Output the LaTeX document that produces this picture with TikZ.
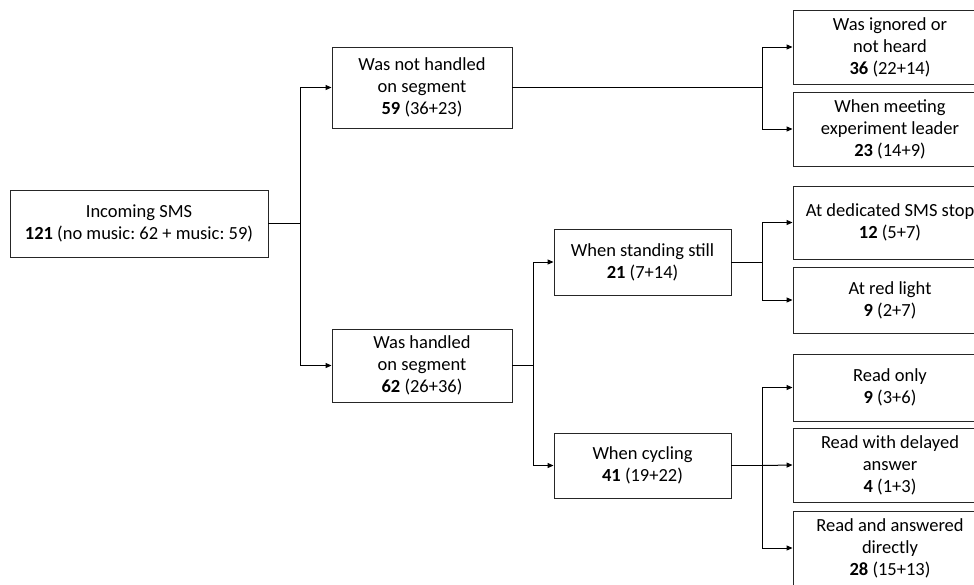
\documentclass[tikz,border=0pt]{standalone}
\usepackage{fontspec}
\setmainfont{Carlito}
\usetikzlibrary{arrows.meta}
\frenchspacing
\begin{document}
\begin{tikzpicture}[x=1pt,y=-1pt,
  box/.style={draw=black!85,line width=0.9pt,rectangle,align=center,inner sep=0pt,
    font=\fontsize{18.5}{22}\selectfont},
  link/.style={draw=black,line width=1pt},
  arr/.style={link,-{Triangle[length=6pt,width=5pt]}}]
\useasboundingbox (0,0) rectangle (974,584);
\clip (0,0) rectangle (974,584);
% nodes
\node[box,minimum width=258pt,minimum height=67pt] (in) at (139,223.5) {Incoming SMS\\\textbf{121} (no music: 62 + music: 59)};
\node[box,minimum width=180pt,minimum height=81pt] (nh) at (422,87.5) {Was not handled\\on segment\\\textbf{59} (36+23)};
\node[box,minimum width=180pt,minimum height=73pt] (h) at (422,365.5) {Was handled\\on segment\\\textbf{62} (26+36)};
\node[box,minimum width=177pt,minimum height=66pt] (ss) at (642.5,262) {When standing still\\\textbf{21} (7+14)};
\node[box,minimum width=177pt,minimum height=65pt] (cy) at (642.5,465.5) {When cycling\\\textbf{41} (19+22)};
\node[box,minimum width=194pt,minimum height=74pt] (ig) at (890,47) {Was ignored or\\not heard\\\textbf{36} (22+14)};
\node[box,minimum width=194pt,minimum height=74pt] (me) at (890,129) {When meeting\\experiment leader\\\textbf{23} (14+9)};
\node[box,minimum width=194pt,minimum height=73pt] (ds) at (890,222.5) {At dedicated SMS stop\\\textbf{12} (5+7)};
\node[box,minimum width=194pt,minimum height=66pt] (rl) at (890,300) {At red light\\\textbf{9} (2+7)};
\node[box,minimum width=194pt,minimum height=67pt] (ro) at (890,387.5) {Read only\\\textbf{9} (3+6)};
\node[box,minimum width=194pt,minimum height=74pt] (rd) at (890,465) {Read with delayed\\answer\\\textbf{4} (1+3)};
\node[box,minimum width=194pt,minimum height=74pt] (ra) at (890,548) {Read and answered\\directly\\\textbf{28} (15+13)};
% forks
\coordinate (f1) at (300,223.5);
\coordinate (f2) at (762,87.5);
\coordinate (f3) at (533,365.5);
\coordinate (f4) at (762,262);
\coordinate (f5) at (762,465.5);
% connectors
\draw[link] (in.east) -- (f1);
\draw[arr] (f1) |- (nh.west);
\draw[arr] (f1) |- (h.west);
\draw[link] (nh.east) -- (f2);
\draw[arr] (f2) |- (ig.west);
\draw[arr] (f2) |- (me.west);
\draw[link] (h.east) -- (f3);
\draw[arr] (f3) |- (ss.west);
\draw[arr] (f3) |- (cy.west);
\draw[link] (ss.east) -- (f4);
\draw[arr] (f4) |- (ds.west);
\draw[arr] (f4) |- (rl.west);
\draw[link] (cy.east) -- (f5);
\draw[arr] (f5) |- (ro.west);
\draw[arr] (f5) -- (rd.west);
\draw[arr] (f5) |- (ra.west);
\end{tikzpicture}
\end{document}
